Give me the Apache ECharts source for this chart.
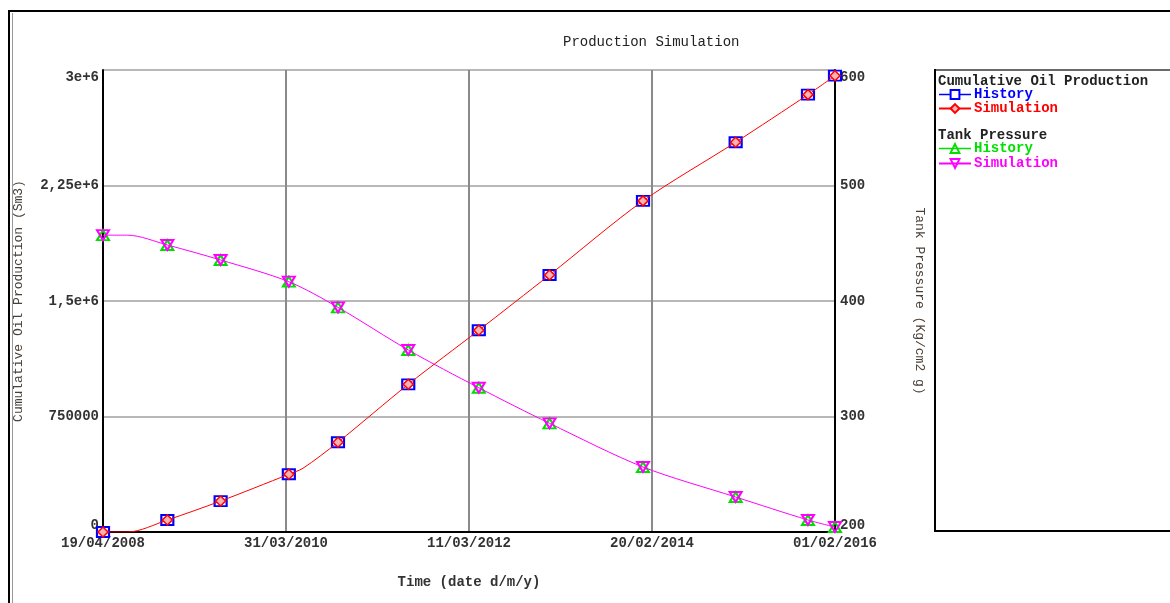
<!DOCTYPE html>
<html>
<head>
<meta charset="utf-8">
<script src="https://cdn.jsdelivr.net/npm/echarts@6/dist/echarts.min.js"></script>
<style>
html, body { margin: 0; padding: 0; background: #fff; }
#chart { width: 1170px; height: 603px; }
</style>
</head>
<body>
<div id="chart"></div>
<script>
// Time axis: day offsets from the first date, ticks every 711 days
const startDate = '2008-04-19';
const xTickStepDays = 711;
const xTickLabels = ['19/04/2008', '31/03/2010', '11/03/2012', '20/02/2014', '01/02/2016'];
const oilTickLabels = ['0', '750000', '1,5e+6', '2,25e+6', '3e+6'];
const pressureTickLabels = ['200', '300', '400', '500', '600'];

// Measured (history) points
const historyDates = ['2008-04-19', '2008-12-25', '2009-07-20', '2010-04-11', '2010-10-19', '2011-07-19',
  '2012-04-18', '2013-01-18', '2014-01-16', '2015-01-11', '2015-10-19', '2016-02-01'];
const oilHistory = [0, 78000, 201000, 375000, 583000, 959000, 1310000, 1669000, 2150000, 2531000, 2840000, 2963000];
const pressureHistory = [457, 448.5, 435.5, 416.7, 394.5, 357.6, 324.9, 294.1, 256.3, 230.3, 210.4, 204.3];

// Simulated curves
const simOilDates = ['2008-04-19', '2008-07-24', '2008-12-25', '2009-07-20', '2010-04-11', '2010-06-05', '2010-10-19',
  '2011-07-19', '2012-04-18', '2013-01-18', '2014-01-16', '2015-01-11', '2015-10-19', '2016-02-01'];
const simOil = [0, 0, 78000, 201000, 375000, 414000, 583000, 959000, 1310000, 1669000, 2150000, 2531000, 2840000, 2963000];
const simPressureDates = ['2008-04-19', '2008-07-24', '2008-12-25', '2009-07-20', '2010-04-11', '2010-10-19',
  '2011-07-19', '2012-04-18', '2013-01-18', '2014-01-16', '2015-01-11', '2015-10-19', '2016-02-01'];
const simPressure = [457, 457, 448.5, 435.5, 416.7, 394.5, 357.6, 324.9, 294.1, 256.3, 230.3, 210.4, 204.3];

const FONT = 'Liberation Mono, Courier New, monospace';
const TEXT = '#333';

function dayOf(d) {
  return Math.round((Date.parse(d + 'T00:00:00Z') - Date.parse(startDate + 'T00:00:00Z')) / 86400000);
}
function pairs(dates, vals) {
  return dates.map((d, i) => [dayOf(d), vals[i]]);
}
// simulated points that coincide with a history date carry a marker
function simPairs(dates, vals) {
  return dates.map((d, i) => historyDates.indexOf(d) >= 0
    ? { value: [dayOf(d), vals[i]] }
    : { value: [dayOf(d), vals[i]], symbol: 'none' });
}

const legendLabels = {
  'Oil History': 'History',
  'Oil Simulation': 'Simulation',
  'Pressure History': 'History',
  'Pressure Simulation': 'Simulation'
};

const legendText = { fontFamily: FONT, fontSize: 14, fontWeight: 'bold', lineHeight: 13, padding: [0, 0, 0, -2] };

const chart = echarts.init(document.getElementById('chart'));
chart.setOption({
  animation: false,
  backgroundColor: '#fff',
  title: {
    text: 'Production Simulation',
    left: 558, top: 30,
    textStyle: { fontFamily: FONT, fontSize: 14, fontWeight: 'normal', color: '#222' }
  },
  grid: { left: 103, right: 335, top: 70, bottom: 71, containLabel: false },
  legend: [
    {
      orient: 'vertical', left: 938, top: 87.5, padding: 0, itemWidth: 32, itemHeight: 11, itemGap: 0,
      formatter: n => legendLabels[n],
      textStyle: legendText,
      data: [
        { name: 'Oil History', textStyle: { color: '#0000ff' }, lineStyle: { opacity: 1, width: 1.5 } },
        { name: 'Oil Simulation', textStyle: { color: '#ff0000' } }
      ]
    },
    {
      orient: 'vertical', left: 938, top: 141.5, padding: 0, itemWidth: 32, itemHeight: 11, itemGap: 1,
      formatter: n => legendLabels[n],
      textStyle: legendText,
      data: [
        { name: 'Pressure History', textStyle: { color: '#00e000' }, lineStyle: { opacity: 1, width: 1.5 } },
        { name: 'Pressure Simulation', textStyle: { color: '#ff00ff' } }
      ]
    }
  ],
  xAxis: {
    type: 'value', min: 0, max: xTickStepDays * 4, interval: xTickStepDays,
    name: 'Time (date d/m/y)', nameLocation: 'middle', nameGap: 43,
    nameTextStyle: { fontFamily: FONT, fontSize: 14, fontWeight: 'bold', color: TEXT },
    axisLine: { show: true, lineStyle: { color: '#000', width: 2 } },
    axisTick: { show: false },
    axisLabel: {
      margin: 4, fontFamily: FONT, fontSize: 14, fontWeight: 'bold', color: TEXT,
      formatter: v => xTickLabels[Math.round(v / xTickStepDays)]
    },
    splitLine: { show: true, lineStyle: { color: '#8a8a8a', width: 2 } }
  },
  yAxis: [
    {
      type: 'value', position: 'left', min: 0, max: 3000000, interval: 750000,
      name: 'Cumulative Oil Production (Sm3)', nameLocation: 'middle', nameGap: 78, nameRotate: 90,
      nameTextStyle: { fontFamily: FONT, fontSize: 13, color: '#4a4038' },
      axisLine: { show: true, lineStyle: { color: '#000', width: 2 } },
      axisTick: { show: false },
      axisLabel: {
        margin: 4, fontFamily: FONT, fontSize: 14, fontWeight: 'bold', color: TEXT,
        verticalAlignMinLabel: 'bottom', verticalAlignMaxLabel: 'top',
        formatter: v => oilTickLabels[Math.round(v / 750000)]
      },
      splitLine: { show: true, lineStyle: { color: '#a0a0a0', width: 1.5 } }
    },
    {
      type: 'value', position: 'right', min: 200, max: 600, interval: 100,
      name: 'Tank Pressure (Kg/cm2 g)', nameLocation: 'middle', nameGap: 78, nameRotate: -90,
      nameTextStyle: { fontFamily: FONT, fontSize: 13, color: '#4a4038' },
      axisLine: { show: true, lineStyle: { color: '#000', width: 2 } },
      axisTick: { show: false },
      axisLabel: {
        margin: 5, fontFamily: FONT, fontSize: 14, fontWeight: 'bold', color: TEXT,
        verticalAlignMinLabel: 'bottom', verticalAlignMaxLabel: 'top',
        formatter: v => pressureTickLabels[Math.round((v - 200) / 100)]
      },
      splitLine: { show: false }
    }
  ],
  series: [
    {
      name: 'Pressure History', type: 'line', yAxisIndex: 1, z: 3,
      data: pairs(historyDates, pressureHistory),
      symbol: 'triangle', symbolSize: [12, 10], showAllSymbol: true,
      lineStyle: { color: '#00e000', width: 1, opacity: 0 },
      itemStyle: { color: 'rgba(255,255,255,0)', borderColor: '#00e000', borderWidth: 2 }
    },
    {
      name: 'Pressure Simulation', type: 'line', yAxisIndex: 1, z: 4, smooth: 0.3,
      data: simPairs(simPressureDates, simPressure),
      symbol: 'triangle', symbolRotate: 180, symbolSize: [12, 10], showAllSymbol: true,
      lineStyle: { color: '#ff00ff', width: 1 },
      itemStyle: { color: 'rgba(255,255,255,0)', borderColor: '#ff00ff', borderWidth: 2 }
    },
    {
      name: 'Oil History', type: 'line', yAxisIndex: 0, z: 5,
      data: pairs(historyDates, oilHistory),
      symbol: 'rect', symbolSize: [12, 10], showAllSymbol: true,
      lineStyle: { color: '#0000ff', width: 1, opacity: 0 },
      itemStyle: { color: '#ffffff', borderColor: '#0000ff', borderWidth: 2 }
    },
    {
      name: 'Oil Simulation', type: 'line', yAxisIndex: 0, z: 6, smooth: 0.3,
      data: simPairs(simOilDates, simOil),
      symbol: 'diamond', symbolSize: [10, 10], showAllSymbol: true,
      lineStyle: { color: '#ff0000', width: 1 },
      itemStyle: { color: '#ffb4b4', borderColor: '#ff0000', borderWidth: 1.5 }
    }
  ],
  graphic: [
    // outer frame
    { type: 'line', shape: { x1: 8, y1: 11, x2: 1170, y2: 11 }, style: { stroke: '#000', lineWidth: 2 }, z: 100 },
    { type: 'line', shape: { x1: 9, y1: 11, x2: 9, y2: 603 }, style: { stroke: '#000', lineWidth: 2 }, z: 100 },
    { type: 'line', shape: { x1: 12.5, y1: 13, x2: 12.5, y2: 603 }, style: { stroke: '#9a9a9a', lineWidth: 1 }, z: 100 },
    // legend panel
    { type: 'line', shape: { x1: 935, y1: 70, x2: 1170, y2: 70 }, style: { stroke: '#6a6a6a', lineWidth: 2 }, z: 100 },
    { type: 'line', shape: { x1: 935, y1: 69, x2: 935, y2: 532 }, style: { stroke: '#000', lineWidth: 2 }, z: 100 },
    { type: 'line', shape: { x1: 934, y1: 531, x2: 1170, y2: 531 }, style: { stroke: '#000', lineWidth: 2 }, z: 100 },
    {
      type: 'text', left: 938, top: 74, z: 100,
      style: { text: 'Cumulative Oil Production', font: 'bold 14px ' + FONT, fill: '#222' }
    },
    {
      type: 'text', left: 938, top: 128, z: 100,
      style: { text: 'Tank Pressure', font: 'bold 14px ' + FONT, fill: '#222' }
    }
  ]
});
</script>
</body>
</html>
